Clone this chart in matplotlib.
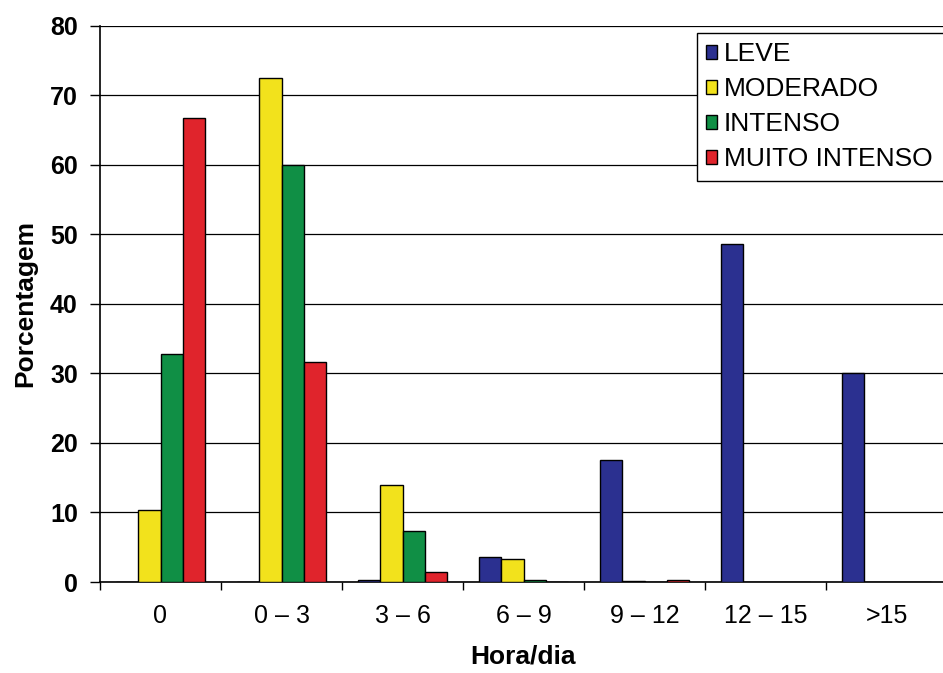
import matplotlib
matplotlib.use("Agg")
import matplotlib.pyplot as plt
import numpy as np

plt.rcParams['font.family'] = ['Liberation Sans', 'DejaVu Sans']

categories = ["0", "0 – 3", "3 – 6", "6 – 9", "9 – 12", "12 – 15", ">15"]
series_names = ["LEVE", "MODERADO", "INTENSO", "MUITO INTENSO"]
leve = [0.0, 0.0, 0.3, 3.6, 17.5, 48.6, 30.0]
moderado = [10.3, 72.4, 14.0, 3.3, 0.2, 0.0, 0.0]
intenso = [32.8, 60.0, 7.3, 0.3, 0.0, 0.0, 0.0]
muito_intenso = [66.7, 31.6, 1.5, 0.0, 0.3, 0.0, 0.0]
yticks = [0, 10, 20, 30, 40, 50, 60, 70, 80]

colors = ["#2b3090", "#f2e21c", "#108f45", "#e0242c"]
series = [leve, moderado, intenso, muito_intenso]

fig = plt.figure(figsize=(9.43, 6.73), dpi=100)
ax = fig.add_axes([100 / 943, 91 / 673, 847 / 943, 556.5 / 673])

x = np.arange(len(categories))
w = 0.182
for i, (vals, name, c) in enumerate(zip(series, series_names, colors)):
    ax.bar(x + (i - 1.5) * w, vals, width=w, color=c, edgecolor="black",
           linewidth=1.0, label=name, zorder=3)

ax.set_xlim(-0.5, len(categories) - 0.5)
ax.set_ylim(0, 80)
ax.set_yticks(yticks)
ax.set_yticklabels([str(t) for t in yticks], fontsize=18, fontweight="bold")
ax.yaxis.grid(True, color="black", linewidth=0.9, zorder=0)
ax.set_axisbelow(True)

# category labels sit between boundary ticks
ax.set_xticks(np.arange(len(categories) + 1) - 0.5)
ax.set_xticklabels([])
ax.set_xticks(x, minor=True)
ax.set_xticklabels(categories, minor=True, fontsize=18)
ax.tick_params(axis="x", which="minor", length=0, pad=16)
ax.tick_params(axis="x", which="major", length=6, width=1, color="black")
ax.tick_params(axis="y", length=7, width=1, pad=9)

ax.spines["right"].set_visible(False)
ax.spines["top"].set_visible(False)
ax.spines["left"].set_linewidth(1.2)
ax.spines["bottom"].set_linewidth(1.2)

ax.set_ylabel("Porcentagem", fontsize=19, fontweight="bold")
ax.yaxis.set_label_coords(-0.074, 0.5)
ax.set_xlabel("Hora/dia", fontsize=19, fontweight="bold")
ax.xaxis.set_label_coords(0.5, -0.113)

# legend box runs past the right edge of the figure
leg = ax.legend(loc="upper left",
                bbox_to_anchor=(697 / 943, 1 - 33 / 673, 260 / 943, 0),
                bbox_transform=fig.transFigure, mode="expand", fontsize=19,
                frameon=True, fancybox=False, framealpha=1.0,
                handlelength=0.42, handleheight=0.42, handletextpad=0.25,
                labelspacing=0.42, borderpad=0.35, borderaxespad=0)
leg.get_frame().set_edgecolor("black")
leg.get_frame().set_linewidth(1.0)

fig.savefig("out.png", dpi=100)
